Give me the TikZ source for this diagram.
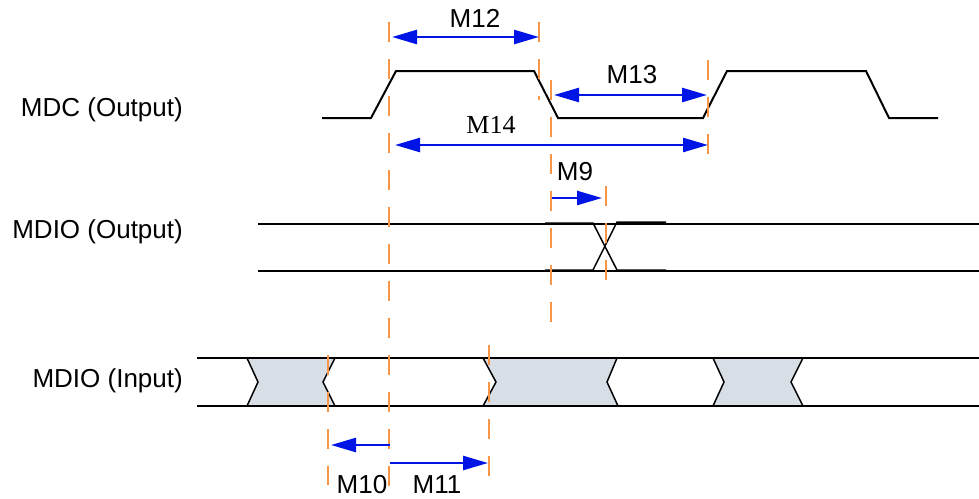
\documentclass[tikz,border=0pt]{standalone}
\usepackage{fontspec}
\setmainfont{Liberation Sans}
\newfontfamily\timesfont{Liberation Serif}
\usetikzlibrary{arrows.meta}
\definecolor{dimblue}{RGB}{0,20,230}
\definecolor{guideorange}{RGB}{247,150,70}
\definecolor{busgray}{RGB}{216,222,230}
\begin{document}
\begin{tikzpicture}[x=1pt,y=-1pt]
    \tikzstyle{every node}=[inner sep=0pt,font=\fontsize{26}{30}\selectfont];
    \tikzstyle{wave}=[line width=2pt,line join=miter];
    \tikzstyle{guide}=[guideorange,line width=2pt,dash pattern=on 20pt off 17pt];
    \tikzstyle{dim}=[dimblue,line width=2.5pt,>={Triangle[length=25pt,width=14pt]}];
    \tikzstyle{bus}=[fill=busgray,draw=black,line width=1.5pt];
    \useasboundingbox (0,0) rectangle (979,498);

    % signal names
    \node at (183,116) (mdc)     [anchor=base east] {MDC (Output)};
    \node at (183,238) (mdioout) [anchor=base east] {MDIO (Output)};
    \node at (183,387) (mdioin)  [anchor=base east] {MDIO (Input)};

    % MDIO (Input) bus
    \draw[bus] (247,358) -- (258,382) -- (247,406) -- (335,406) -- (323,382) -- (335,358) -- cycle;
    \draw[bus] (483,358) -- (496,382) -- (483,406) -- (618,406) -- (607,382) -- (617,358) -- cycle;
    \draw[bus] (713,358) -- (724,382) -- (713,406) -- (803,406) -- (791,382) -- (803,358) -- cycle;
    \draw[wave] (197,358) -- (979,358);
    \draw[wave] (197,406) -- (979,406);

    % MDC clock
    \draw[wave] (322,118) -- (371,118) -- (396,71) -- (534,71) -- (558,118)
        -- (703,118) -- (727,71) -- (866,71) -- (889,118) -- (938,118);

    % MDIO (Output)
    \draw[wave] (258,224) -- (979,224);
    \draw[wave] (258,271) -- (979,271);
    \draw[wave,line width=1.5pt] (545,223) -- (593,223) -- (617,270) -- (666,270);
    \draw[wave,line width=1.5pt] (545,270) -- (593,270) -- (617,222) -- (666,222);

    % timing guides
    \draw[guide] (389,22) -- (389,498);
    \draw[guide] (539,22) -- (539,100);
    \draw[guide] (551,80) -- (551,330);
    \draw[guide] (708,60) -- (708,165);
    \draw[guide] (606,186) -- (606,285);
    \draw[guide] (328,355) -- (328,485);
    \draw[guide] (489,345) -- (489,485);

    % intervals
    \draw[dim,<->] (392,37) -- (539,37);
    \node at (475,27) (m12) [anchor=base] {M12};
    \draw[dim,<->] (554,95) -- (707,95);
    \node at (632,83) (m13) [anchor=base] {M13};
    \draw[dim,<->] (395,145) -- (708,145);
    \node at (491,133) (m14) [anchor=base,font=\fontsize{26}{30}\timesfont] {M14};
    \draw[dim,->] (552,198) -- (602,198);
    \node at (575,180) (m9) [anchor=base] {M9};
    \draw[dim,->] (390,445) -- (331,445);
    \node at (362,493) (m10) [anchor=base] {M10};
    \draw[dim,->] (390,463) -- (488,463);
    \node at (437,493) (m11) [anchor=base] {M11};
\end{tikzpicture}
\end{document}
